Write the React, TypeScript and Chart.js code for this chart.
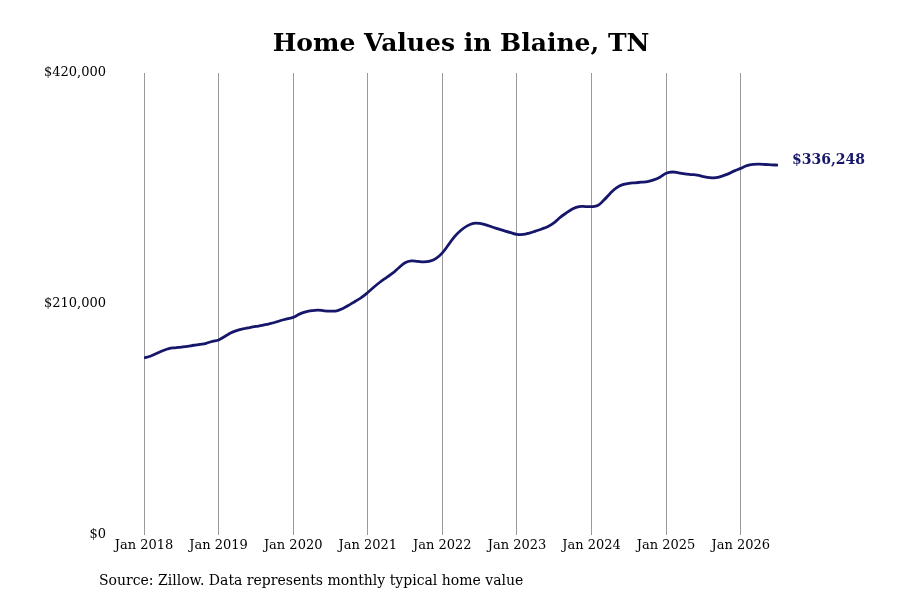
import React, { useEffect, useRef } from "react";
import Chart, { ChartConfiguration, Plugin } from "chart.js/auto";

// monthly typical home value, Jan 2018 .. Jul 2026
const values2018 = [160900, 162500, 165000, 167500, 169500, 170200, 170800, 171500, 172500, 173300, 174300, 176000];
const values2019 = [177300, 180500, 183800, 186000, 187500, 188600, 189600, 190500, 191800, 193200, 195000, 196500];
const values2020 = [197800, 200800, 202800, 204000, 204500, 203800, 203500, 203800, 206000, 209000, 212500, 216000];
const values2021 = [220500, 225500, 230000, 234000, 238000, 243000, 247500, 249200, 248800, 248300, 249000, 251500];
const values2022 = [256500, 264000, 271500, 277000, 281000, 283300, 283300, 282000, 280000, 278300, 276500, 274800];
const values2023 = [273300, 273200, 274500, 276300, 278200, 280500, 284000, 289000, 293000, 296500, 298500, 298600];
const values2024 = [298500, 299500, 304500, 310500, 315500, 318500, 319700, 320200, 320700, 321200, 322800, 325300];
const values2025 = [328800, 330000, 329300, 328300, 327700, 327200, 325800, 324800, 324800, 326300, 328300, 331000];
const values2026 = [333300, 335800, 336900, 337100, 336800, 336500, 336248];

const values = [
  ...values2018, ...values2019, ...values2020, ...values2021, ...values2022,
  ...values2023, ...values2024, ...values2025, ...values2026,
];

const xTickLabels = [
  "Jan 2018", "Jan 2019", "Jan 2020", "Jan 2021", "Jan 2022",
  "Jan 2023", "Jan 2024", "Jan 2025", "Jan 2026",
];
const yTicks = [0, 210000, 420000];

const title = "Home Values in Blaine, TN";
const source = "Source: Zillow. Data represents monthly typical home value";
const lineColor = "#16166b";
const serif = "'DejaVu Serif', serif";

const fmt = (v: number) => "$" + v.toLocaleString("en-US");

const textPlugin: Plugin<"line"> = {
  id: "texts",
  afterDraw(chart) {
    const { ctx, chartArea } = chart;
    ctx.save();
    ctx.fillStyle = "#000";
    ctx.textBaseline = "middle";
    ctx.font = `bold 25px ${serif}`;
    ctx.textAlign = "center";
    ctx.fillText(title, (chartArea.left + chartArea.right) / 2, 44);

    ctx.font = `14px ${serif}`;
    ctx.textAlign = "left";
    ctx.fillText(source, 99, 581);

    // end value label
    const meta = chart.getDatasetMeta(0);
    const last = meta.data[meta.data.length - 1];
    ctx.font = `bold 14px ${serif}`;
    ctx.fillStyle = lineColor;
    ctx.fillText(fmt(values[values.length - 1]), last.x + 14, last.y - 5);
    ctx.restore();
  },
};

const App: React.FC = () => {
  const chartRef = useRef<HTMLCanvasElement>(null);
  const chartInstanceRef = useRef<Chart<"line"> | null>(null);

  useEffect(() => {
    document.body.style.margin = "0";
    if (!chartRef.current) return;
    const ctx = chartRef.current.getContext("2d");
    if (!ctx) return;
    if (chartInstanceRef.current) chartInstanceRef.current.destroy();

    const config: ChartConfiguration<"line"> = {
      type: "line",
      data: {
        datasets: [
          {
            data: values.map((v, i) => ({ x: i, y: v })),
            borderColor: lineColor,
            borderWidth: 2.8,
            pointRadius: 0,
            tension: 0.4,
            fill: false,
          },
        ],
      },
      options: {
        responsive: false,
        animation: false,
        layout: { padding: { top: 73, right: 122, bottom: 35, left: 0 } },
        plugins: {
          legend: { display: false },
          title: { display: false },
          tooltip: { enabled: false },
        },
        scales: {
          x: {
            type: "linear",
            min: 0,
            max: values.length - 1,
            afterBuildTicks: (scale) => {
              scale.ticks = xTickLabels.map((_, i) => ({ value: i * 12 }));
            },
            afterFit: (scale) => {
              scale.height = 30;
            },
            border: { display: false },
            grid: { color: "#999999", lineWidth: 1, drawTicks: false },
            ticks: {
              autoSkip: false,
              maxRotation: 0,
              padding: 3,
              color: "#000",
              font: { family: serif, size: 13 },
              callback: (v) => xTickLabels[Math.round(Number(v) / 12)] ?? "",
            },
          },
          y: {
            min: 0,
            max: 420000,
            afterBuildTicks: (scale) => {
              scale.ticks = yTicks.map((v) => ({ value: v }));
            },
            afterFit: (scale) => {
              scale.width = 144;
            },
            border: { display: false },
            grid: { display: false, drawTicks: false },
            ticks: {
              padding: 38,
              color: "#000",
              font: { family: serif, size: 13 },
              callback: (v) => fmt(Number(v)),
            },
          },
        },
      },
      plugins: [textPlugin],
    };

    chartInstanceRef.current = new Chart(ctx, config);

    return () => {
      if (chartInstanceRef.current) {
        chartInstanceRef.current.destroy();
        chartInstanceRef.current = null;
      }
    };
  }, []);

  return <canvas ref={chartRef} width={900} height={600} />;
};

export default App;
